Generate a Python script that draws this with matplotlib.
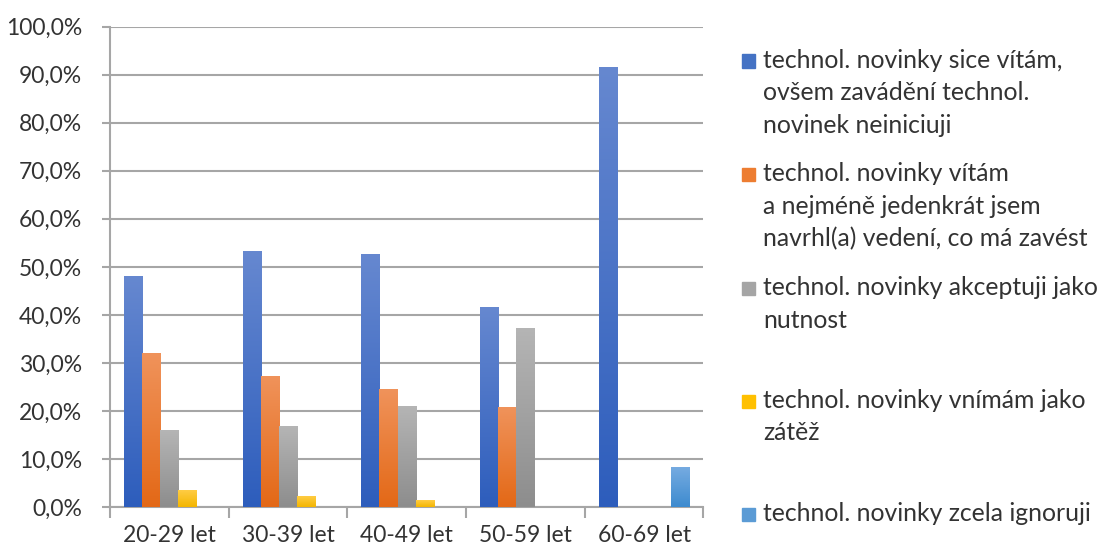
import numpy as np
import matplotlib
matplotlib.use("Agg")
import matplotlib.pyplot as plt
from matplotlib.colors import LinearSegmentedColormap
from matplotlib.ticker import FuncFormatter

# =========================
# DATA
# =========================
categories = ["20-29 let", "30-39 let", "40-49 let", "50-59 let", "60-69 let"]

series_labels = [
    "technol. novinky sice vítám,\novšem zavádění technol.\nnovinek neiniciuji",
    "technol. novinky vítám\na nejméně jedenkrát jsem\nnavrhl(a) vedení, co má zavést",
    "technol. novinky akceptuji jako\nnutnost",
    "technol. novinky vnímám jako\nzátěž",
    "technol. novinky zcela ignoruji",
]

sice_vitam = [48.0, 53.3, 52.6, 41.6, 91.7]
vitam_navrhl = [32.0, 27.3, 24.5, 20.8, 0.0]
akceptuji = [16.0, 16.8, 21.1, 37.3, 0.0]
zatez = [3.5, 2.2, 1.4, 0.0, 0.0]
ignoruji = [0.0, 0.0, 0.0, 0.0, 8.3]

values = [sice_vitam, vitam_navrhl, akceptuji, zatez, ignoruji]

# (top, bottom) gradient colours
grad_colors = [
    ("#6688d0", "#2d5dbc"),
    ("#f0935b", "#e36816"),
    ("#b5b5b5", "#8d8d8d"),
    ("#ffcc44", "#f4b600"),
    ("#76abe1", "#3d8bcf"),
]
legend_colors = ["#4472c4", "#ed7d31", "#a5a5a5", "#ffc000", "#5b9bd5"]

# =========================
# FIGURE
# =========================
plt.rcParams["font.family"] = ["Lato", "DejaVu Sans"]
text_color = "#333333"
grid_color = "#a6a6a6"

fig = plt.figure(figsize=(11.02, 5.51), dpi=100)
ax = fig.add_axes([0.0998, 0.0799, 0.5385, 0.8716])

x = np.arange(len(categories))
n = len(values)
bar_w = 0.153
offsets = (np.arange(n) - (n - 1) / 2) * bar_w

for i, vals in enumerate(values):
    bars = ax.bar(x + offsets[i], vals, bar_w, color="none", edgecolor="none", zorder=3)
    cmap = LinearSegmentedColormap.from_list("g%d" % i, [grad_colors[i][1], grad_colors[i][0]])
    grad = np.linspace(0, 1, 256).reshape(-1, 1)
    for b in bars:
        h = b.get_height()
        if h <= 0:
            continue
        x0 = b.get_x()
        im = ax.imshow(grad, cmap=cmap, origin="lower", aspect="auto",
                       extent=(x0, x0 + b.get_width(), 0, h), zorder=3)
        im.set_clip_path(b)

ax.set_xlim(-0.5, len(categories) - 0.5)
ax.set_ylim(0, 100)

ax.set_yticks(np.arange(0, 101, 10))
ax.yaxis.set_major_formatter(FuncFormatter(lambda v, p: ("%.1f%%" % v).replace(".", ",")))
ax.yaxis.grid(True, color=grid_color, linewidth=1.5, zorder=0)
ax.set_axisbelow(True)

ax.set_xticks(x)
ax.set_xticklabels(categories)
ax.set_xticks(np.arange(-0.5, len(categories), 1), minor=True)
ax.tick_params(axis="x", which="major", length=0, pad=13, labelsize=16.5, colors=text_color)
ax.tick_params(axis="x", which="minor", length=8, width=1.5, color=grid_color)
ax.tick_params(axis="y", which="major", length=6, width=1.5, color=grid_color,
               labelsize=16.5, labelcolor=text_color, pad=14)

for s in ["top", "right"]:
    ax.spines[s].set_visible(False)
for s in ["left", "bottom"]:
    ax.spines[s].set_color(grid_color)
    ax.spines[s].set_linewidth(1.5)

# =========================
# LEGEND (manual, marker on first line)
# =========================
W, H = 1102.0, 551.0
first_baseline = [68, 181, 295, 408, 521]
line_step = 32.5
for lab, col, by in zip(series_labels, legend_colors, first_baseline):
    fig.patches.append(plt.Rectangle((742 / W, 1 - (by - 0.5) / H), 13 / W, 13 / H,
                                     transform=fig.transFigure, color=col))
    for k, line in enumerate(lab.split("\n")):
        fig.text(763 / W, 1 - (by + k * line_step) / H, line, fontsize=17.8,
                 color=text_color, va="baseline", ha="left")

fig.savefig("out.png", dpi=100)
